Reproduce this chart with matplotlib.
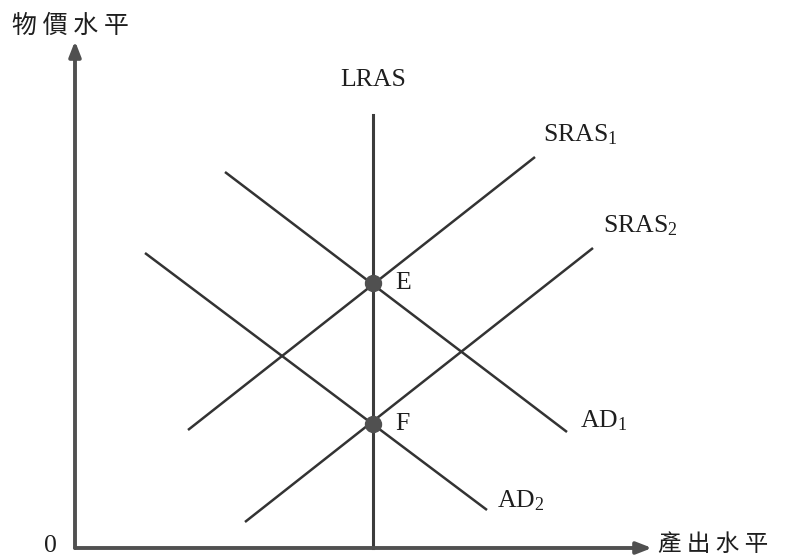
import matplotlib
matplotlib.use("Agg")
import matplotlib.pyplot as plt

plt.rcParams['mathtext.fontset'] = 'custom'
plt.rcParams['mathtext.rm'] = 'Liberation Serif'
plt.rcParams['mathtext.it'] = 'Liberation Serif'

# origin at pixel (75, 548); units ~ pixels
curve_names = ["SRAS1", "SRAS2", "AD1", "AD2"]
sras1_x = [113, 460]; sras1_y = [118, 391]
sras2_x = [170, 518]; sras2_y = [26, 300]
ad1_x = [150, 492]; ad1_y = [376, 116]
ad2_x = [70, 412]; ad2_y = [295, 38]
lras_x = [298, 298]; lras_y = [0, 433]
points = ["E", "F"]
point_x = [298, 298]
point_y = [265, 124]

W, H = 785, 559
fig = plt.figure(figsize=(7.85, 5.59), dpi=100)
ax = fig.add_axes([0, 0, 1, 1])
ax.set_xlim(-75, W - 75)
ax.set_ylim(-(H - 548), 548)
ax.axis('off')

lc = '#333333'
lw = 1.8
for xs, ys in [(sras1_x, sras1_y), (sras2_x, sras2_y), (ad1_x, ad1_y), (ad2_x, ad2_y)]:
    ax.plot(xs, ys, color=lc, lw=lw, solid_capstyle='butt')
ax.plot(lras_x, lras_y, color='#3c3c3c', lw=2.2)

ax.plot(point_x, point_y, 'o', color='#505050', markersize=11.5, zorder=5)

# axes
axc = '#505050'
ax.annotate('', xy=(0, 507), xytext=(0, 0),
            arrowprops=dict(arrowstyle='-|>,head_length=0.9,head_width=0.35', color=axc, lw=2.8, shrinkA=0, shrinkB=0))
ax.annotate('', xy=(577, 0), xytext=(0, 0),
            arrowprops=dict(arrowstyle='-|>,head_length=0.9,head_width=0.35', color=axc, lw=2.8, shrinkA=0, shrinkB=0))

serif = 'Liberation Serif'
fs = 18.5
tc = '#1e1e1e'
cjk = ['Noto Sans CJK TC', 'DejaVu Sans']
ax.text(-63, 522, '物 價 水 平', fontsize=18, family=cjk, ha='left', va='center', color=tc)
ax.text(583, 4, '產 出 水 平', fontsize=17, family=cjk, ha='left', va='center', color=tc)
ax.text(-25, 2, '0', fontsize=fs, family=serif, ha='center', va='center', color=tc)

ax.text(298, 468, 'LRAS', fontsize=fs, family=serif, ha='center', va='center', color=tc)
ax.text(468, 413, r'SRAS$_\mathrm{1}$', fontsize=fs, family=serif, ha='left', va='center', color=tc)
ax.text(528, 322, r'SRAS$_\mathrm{2}$', fontsize=fs, family=serif, ha='left', va='center', color=tc)
ax.text(505, 127, r'AD$_\mathrm{1}$', fontsize=fs, family=serif, ha='left', va='center', color=tc)
ax.text(422, 47, r'AD$_\mathrm{2}$', fontsize=fs, family=serif, ha='left', va='center', color=tc)
for name, px, py in zip(points, point_x, point_y):
    ax.text(px + 22, py, name, fontsize=fs, family=serif, ha='left', va='center', color=tc)

fig.savefig('out.png', dpi=100)
